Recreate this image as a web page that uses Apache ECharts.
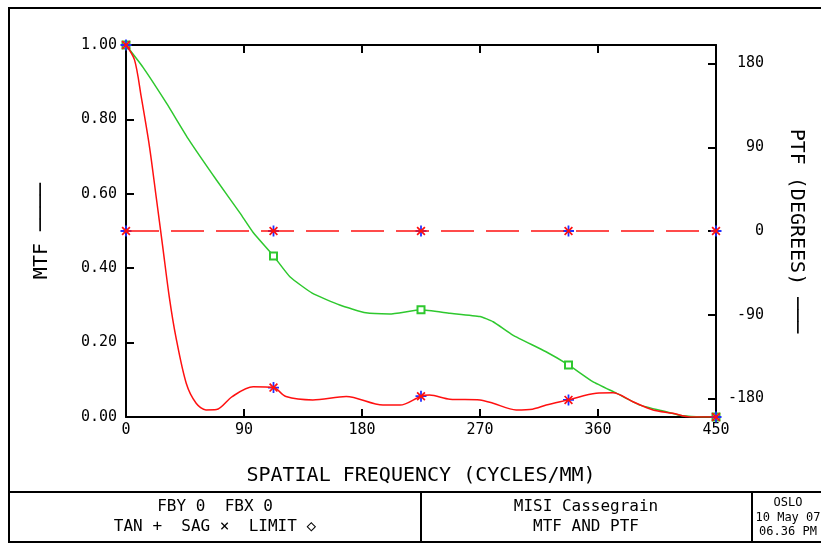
<!DOCTYPE html>
<html>
<head>
<meta charset="utf-8">
<script src="https://cdn.jsdelivr.net/npm/echarts@6/dist/echarts.min.js"></script>
<style>
  html, body { margin: 0; padding: 0; background: #fff; }
  #chart { width: 821px; height: 544px; }
</style>
</head>
<body>
<div id="chart"></div>
<script>
// spatial frequency ticks (cycles/mm)
const xTicks = [0, 90, 180, 270, 360, 450]
const mtfTicks = [0, 0.2, 0.4, 0.6, 0.8, 1.0]
const ptfTicks = [-180, -90, 0, 90, 180]
// points where OSLO draws its markers
const markerFreqs = [0, 112.5, 225, 337.5, 450]

// diffraction limit (green)
const freqLimit = [0, 13, 31, 48, 69, 87, 97, 112.5, 125, 142, 163, 183, 201, 225, 247, 270, 280, 295, 320, 337.5, 356, 374, 392, 412, 422, 435, 450]
const mtfLimit = [1.0, 0.94, 0.843, 0.745, 0.637, 0.548, 0.496, 0.433, 0.377, 0.333, 0.301, 0.28, 0.277, 0.288, 0.279, 0.27, 0.256, 0.22, 0.176, 0.14, 0.095, 0.064, 0.032, 0.014, 0.005, 0.001, 0.0]

// tangential / sagittal MTF (on axis, they coincide)
const freqTanSag = [0, 6.5, 11.6, 17.9, 23, 28, 33, 38, 46, 53.5, 61, 69, 81, 97, 112.5, 122, 142.5, 168, 196, 209, 225, 231.5, 247, 270, 280, 297.6, 310, 320.5, 337.5, 358.6, 371.4, 386.6, 402, 417, 430, 450]
const mtfTan = [1.0, 0.96, 0.861, 0.727, 0.592, 0.458, 0.323, 0.216, 0.09, 0.037, 0.019, 0.02, 0.055, 0.081, 0.079, 0.055, 0.046, 0.055, 0.032, 0.032, 0.056, 0.059, 0.048, 0.046, 0.037, 0.019, 0.021, 0.032, 0.046, 0.064, 0.065, 0.041, 0.019, 0.01, 0.0, 0.0]
const mtfSag = [1.0, 0.96, 0.861, 0.727, 0.592, 0.458, 0.323, 0.216, 0.09, 0.037, 0.019, 0.02, 0.055, 0.081, 0.079, 0.055, 0.046, 0.055, 0.032, 0.032, 0.056, 0.059, 0.048, 0.046, 0.037, 0.019, 0.021, 0.032, 0.046, 0.064, 0.065, 0.041, 0.019, 0.01, 0.0, 0.0]

// phase transfer (degrees)
const freqPtf = [0, 112.5, 225, 337.5, 450]
const ptfTan = [0, 0, 0, 0, 0]
const ptfSag = [0, 0, 0, 0, 0]

const MONO = '"DejaVu Sans Mono", "Liberation Mono", monospace'
const plusPath = 'path://M4.2,0h1.6v10h-1.6z M0,4.2h10v1.6h-10z'
const RED = '#ff1010'
const BLUE = '#2030ff'
const GREEN = '#2ec82e'

function pairs(xs, ys) {
  return xs.map((x, i) => [x, ys[i]])
}

function markerAt(path) {
  return (value) => (markerFreqs.indexOf(value[0]) >= 0 ? path : 'none')
}

function initChart() {
  let myChart = echarts.getInstanceByDom(document.getElementById('chart'))
  if (myChart === null || myChart === undefined) {
    myChart = echarts.init(document.getElementById('chart'))
  }

  const axisLine = { show: true, onZero: false, lineStyle: { color: '#000', width: 2 } }
  const tickStyle = { show: true, inside: true, length: 8, lineStyle: { color: '#000', width: 2 } }
  const labelFont = { color: '#000', fontFamily: MONO, fontSize: 15 }

  const option = {
    backgroundColor: '#fff',
    animation: false,
    grid: {
      left: 126,
      top: 45,
      width: 590,
      height: 372,
      containLabel: false,
      outerBoundsMode: 'none'
    },
    xAxis: [
      {
        type: 'value',
        position: 'bottom',
        min: 0,
        max: 450,
        interval: 90,
        axisLine: axisLine,
        axisTick: tickStyle,
        splitLine: { show: false },
        axisLabel: { ...labelFont, margin: 6, customValues: xTicks },
        name: 'SPATIAL FREQUENCY (CYCLES/MM)',
        nameLocation: 'middle',
        nameGap: 49,
        nameTextStyle: { color: '#000', fontFamily: MONO, fontSize: 20 }
      },
      {
        type: 'value',
        position: 'top',
        min: 0,
        max: 450,
        interval: 90,
        axisLine: axisLine,
        axisTick: tickStyle,
        splitLine: { show: false },
        axisLabel: { show: false }
      }
    ],
    yAxis: [
      {
        type: 'value',
        position: 'left',
        min: 0,
        max: 1,
        interval: 0.2,
        axisLine: axisLine,
        axisTick: tickStyle,
        splitLine: { show: false },
        axisLabel: {
          ...labelFont,
          margin: 9,
          customValues: mtfTicks,
          formatter: (v) => v.toFixed(2)
        },
        name: 'MTF ────',
        nameLocation: 'middle',
        nameGap: 74,
        nameTextStyle: { color: '#000', fontFamily: MONO, fontSize: 20 }
      },
      {
        type: 'value',
        position: 'right',
        min: -200,
        max: 200,
        axisLine: axisLine,
        axisTick: { ...tickStyle, customValues: ptfTicks },
        splitLine: { show: false },
        axisLabel: {
          ...labelFont,
          customValues: ptfTicks,
          align: 'right',
          margin: 48
        },
        name: 'PTF (DEGREES) ───',
        nameLocation: 'middle',
        nameRotate: -90,
        nameGap: 70,
        nameTextStyle: { color: '#000', fontFamily: MONO, fontSize: 20 }
      }
    ],
    series: [
      {
        name: 'LIMIT',
        type: 'line',
        data: pairs(freqLimit, mtfLimit),
        smooth: 0.15,
        showAllSymbol: true,
        symbol: markerAt('emptyRect'),
        symbolSize: 7,
        lineStyle: { color: GREEN, width: 1.5 },
        itemStyle: { color: GREEN, borderColor: GREEN, borderWidth: 1.5 }
      },
      {
        // TAN lies under SAG on axis: only its markers show
        name: 'TAN',
        type: 'line',
        data: pairs(freqTanSag, mtfTan),
        smooth: 0.3,
        showAllSymbol: true,
        symbol: markerAt(plusPath),
        symbolSize: 11,
        lineStyle: { color: BLUE, width: 1.5, opacity: 0 },
        itemStyle: { color: BLUE },
        z: 3
      },
      {
        name: 'SAG',
        type: 'line',
        data: pairs(freqTanSag, mtfSag),
        smooth: 0.3,
        showAllSymbol: true,
        symbol: markerAt(plusPath),
        symbolRotate: 45,
        symbolSize: 11,
        lineStyle: { color: RED, width: 1.5 },
        itemStyle: { color: RED },
        z: 4
      },
      {
        name: 'PTF TAN',
        type: 'line',
        yAxisIndex: 1,
        data: pairs(freqPtf, ptfTan),
        showAllSymbol: true,
        symbol: plusPath,
        symbolSize: 11,
        lineStyle: { color: BLUE, width: 1.5, opacity: 0 },
        itemStyle: { color: BLUE },
        z: 5
      },
      {
        name: 'PTF SAG',
        type: 'line',
        yAxisIndex: 1,
        data: pairs(freqPtf, ptfSag),
        showAllSymbol: true,
        symbol: plusPath,
        symbolRotate: 45,
        symbolSize: 11,
        lineStyle: { color: RED, width: 1.5, type: [33, 12] },
        itemStyle: { color: RED },
        z: 6
      }
    ],
    graphic: [
      { type: 'rect', shape: { x: 9, y: 8, width: 840, height: 534 }, style: { fill: 'none', stroke: '#000', lineWidth: 2 }, silent: true },
      { type: 'line', shape: { x1: 9, y1: 492, x2: 821, y2: 492 }, style: { stroke: '#000', lineWidth: 2 }, silent: true },
      { type: 'line', shape: { x1: 421, y1: 492, x2: 421, y2: 542 }, style: { stroke: '#000', lineWidth: 2 }, silent: true },
      { type: 'line', shape: { x1: 752, y1: 492, x2: 752, y2: 542 }, style: { stroke: '#000', lineWidth: 2 }, silent: true },
      { type: 'text', x: 215, y: 507, style: { text: 'FBY 0  FBX 0', font: '16px ' + MONO, fill: '#000', align: 'center', verticalAlign: 'middle' } },
      { type: 'text', x: 215, y: 527, style: { text: 'TAN +  SAG ×  LIMIT ◇', font: '16px ' + MONO, fill: '#000', align: 'center', verticalAlign: 'middle' } },
      { type: 'text', x: 586, y: 507, style: { text: 'MISI Cassegrain', font: '16px ' + MONO, fill: '#000', align: 'center', verticalAlign: 'middle' } },
      { type: 'text', x: 586, y: 527, style: { text: 'MTF AND PTF', font: '16px ' + MONO, fill: '#000', align: 'center', verticalAlign: 'middle' } },
      { type: 'text', x: 788, y: 503, style: { text: 'OSLO', font: '12px ' + MONO, fill: '#000', align: 'center', verticalAlign: 'middle' } },
      { type: 'text', x: 788, y: 518, style: { text: '10 May 07', font: '12px ' + MONO, fill: '#000', align: 'center', verticalAlign: 'middle' } },
      { type: 'text', x: 788, y: 532, style: { text: '06.36 PM', font: '12px ' + MONO, fill: '#000', align: 'center', verticalAlign: 'middle' } }
    ]
  }

  myChart.setOption(option, true)
}

initChart()
</script>
</body>
</html>
